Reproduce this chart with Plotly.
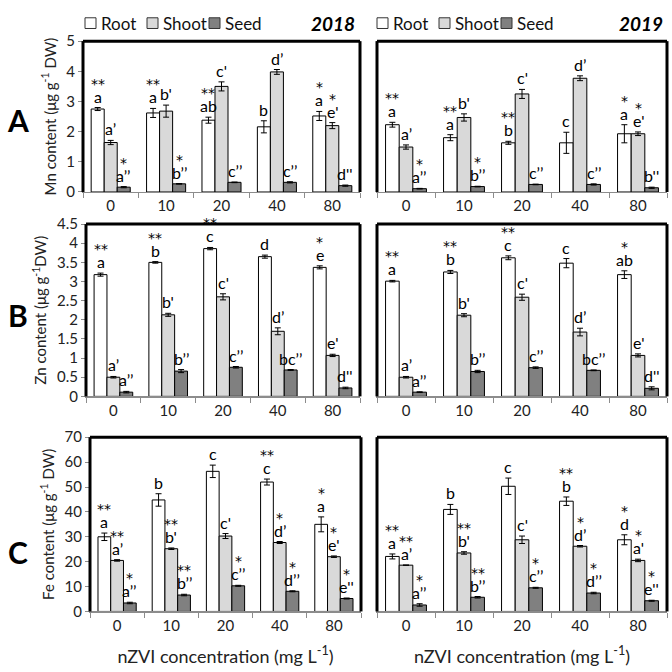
import plotly.graph_objects as go
import numpy as np

concentrations = ["0", "10", "20", "40", "80"]
series_names = ["Root", "Shoot", "Seed"]
series_colors = ["#ffffff", "#d9d9d9", "#808080"]

# ---- Mn (panel A) ----
mn_2018_root = [2.75, 2.62, 2.38, 2.16, 2.52]
mn_2018_shoot = [1.64, 2.68, 3.50, 3.98, 2.20]
mn_2018_seed = [0.16, 0.27, 0.32, 0.32, 0.21]
mn_2018_root_err = [0.05, 0.15, 0.10, 0.20, 0.15]
mn_2018_shoot_err = [0.07, 0.20, 0.15, 0.08, 0.10]
mn_2018_seed_err = [0.02, 0.01, 0.01, 0.02, 0.02]
mn_2019_root = [2.23, 1.80, 1.63, 1.63, 1.93]
mn_2019_shoot = [1.49, 2.47, 3.25, 3.77, 1.93]
mn_2019_seed = [0.11, 0.18, 0.25, 0.25, 0.14]
mn_2019_root_err = [0.08, 0.10, 0.05, 0.35, 0.30]
mn_2019_shoot_err = [0.07, 0.12, 0.15, 0.08, 0.06]
mn_2019_seed_err = [0.01, 0.01, 0.01, 0.02, 0.02]

# ---- Zn (panel B) ----
zn_2018_root = [3.18, 3.50, 3.86, 3.65, 3.37]
zn_2018_shoot = [0.50, 2.13, 2.60, 1.70, 1.07]
zn_2018_seed = [0.11, 0.66, 0.76, 0.69, 0.22]
zn_2018_root_err = [0.04, 0.02, 0.03, 0.04, 0.04]
zn_2018_shoot_err = [0.02, 0.04, 0.08, 0.09, 0.03]
zn_2018_seed_err = [0.02, 0.04, 0.02, 0.01, 0.02]
zn_2019_root = [3.01, 3.25, 3.62, 3.48, 3.18]
zn_2019_shoot = [0.50, 2.12, 2.59, 1.68, 1.07]
zn_2019_seed = [0.11, 0.65, 0.75, 0.68, 0.21]
zn_2019_root_err = [0.02, 0.04, 0.05, 0.12, 0.10]
zn_2019_shoot_err = [0.02, 0.04, 0.08, 0.10, 0.04]
zn_2019_seed_err = [0.01, 0.03, 0.02, 0.01, 0.04]

# ---- Fe (panel C) ----
fe_2018_root = [30.0, 44.8, 56.3, 52.0, 35.0]
fe_2018_shoot = [20.5, 25.2, 30.3, 27.7, 22.0]
fe_2018_seed = [3.4, 6.6, 10.3, 8.1, 5.2]
fe_2018_root_err = [1.5, 2.5, 2.5, 1.2, 3.0]
fe_2018_shoot_err = [0.3, 0.3, 1.0, 0.4, 0.3]
fe_2018_seed_err = [0.3, 0.3, 0.2, 0.2, 0.2]
fe_2019_root = [22.1, 41.0, 50.3, 44.3, 28.8]
fe_2019_shoot = [18.6, 23.5, 28.8, 26.2, 20.5]
fe_2019_seed = [2.6, 5.7, 9.5, 7.4, 4.3]
fe_2019_root_err = [1.0, 2.0, 3.3, 1.7, 2.0]
fe_2019_shoot_err = [0.0, 0.5, 1.5, 0.3, 0.5]
fe_2019_seed_err = [0.5, 0.3, 0.2, 0.3, 0.2]

# ---- significance labels ----
mn_2018_root_lbl = ["**a", "**a", "**ab", "b", "*a"]
mn_2018_shoot_lbl = ["a’", "b'", "c'", "d’", "*e'"]
mn_2018_seed_lbl = ["*a’’", "*b’’", "c’’", "c’’", "d''"]
mn_2019_root_lbl = ["**a", "**a", "**b", "c", "*a"]
mn_2019_shoot_lbl = ["a’", "b'", "c'", "d’", "*e'"]
mn_2019_seed_lbl = ["*a’’", "*b’’", "c’’", "c’’", "b''"]
zn_2018_root_lbl = ["**a", "**b", "**c", "d", "*e"]
zn_2018_shoot_lbl = ["a’", "b'", "c'", "d’", "e'"]
zn_2018_seed_lbl = ["a’’", "b’’", "c’’", "bc’’", "d''"]
zn_2019_root_lbl = ["**a", "**b", "**c", "c", "*ab"]
zn_2019_shoot_lbl = ["a’", "b'", "c'", "d’", "e'"]
zn_2019_seed_lbl = ["a’’", "b’’", "c’’", "bc’’", "d''"]
fe_2018_root_lbl = ["**a", "b", "c", "**c", "*a"]
fe_2018_shoot_lbl = ["**a’", "**b'", "c'", "*d’", "*e'"]
fe_2018_seed_lbl = ["*a’’", "**b’’", "*c’’", "*d’’", "*e''"]
fe_2019_root_lbl = ["**a", "b", "c", "**b", "*d"]
fe_2019_shoot_lbl = ["**a’", "**b'", "c'", "*d’", "*a'"]
fe_2019_seed_lbl = ["*a’’", "**b’’", "*c’’", "*d’’", "*e''"]

FONT = "Lato"
STAR_FONT = "DejaVu Sans"
W = H = 672

panels = [
    ([mn_2018_root, mn_2018_shoot, mn_2018_seed], [mn_2018_root_err, mn_2018_shoot_err, mn_2018_seed_err],
     [mn_2018_root_lbl, mn_2018_shoot_lbl, mn_2018_seed_lbl], 5, 1, "Mn content (μg g<sup>-1</sup> DW)", (83, 360), (32, 187)),
    ([mn_2019_root, mn_2019_shoot, mn_2019_seed], [mn_2019_root_err, mn_2019_shoot_err, mn_2019_seed_err],
     [mn_2019_root_lbl, mn_2019_shoot_lbl, mn_2019_seed_lbl], 5, 1, None, (377, 667), (32, 187)),
    ([zn_2018_root, zn_2018_shoot, zn_2018_seed], [zn_2018_root_err, zn_2018_shoot_err, zn_2018_seed_err],
     [zn_2018_root_lbl, zn_2018_shoot_lbl, zn_2018_seed_lbl], 4.5, 0.5, "Zn content (μg g<sup>-1</sup>DW)", (86, 360), (220, 397)),
    ([zn_2019_root, zn_2019_shoot, zn_2019_seed], [zn_2019_root_err, zn_2019_shoot_err, zn_2019_seed_err],
     [zn_2019_root_lbl, zn_2019_shoot_lbl, zn_2019_seed_lbl], 4.5, 0.5, None, (377, 667), (220, 397)),
    ([fe_2018_root, fe_2018_shoot, fe_2018_seed], [fe_2018_root_err, fe_2018_shoot_err, fe_2018_seed_err],
     [fe_2018_root_lbl, fe_2018_shoot_lbl, fe_2018_seed_lbl], 70, 10, "Fe content (μg g<sup>-1</sup> DW)", (90, 361), (439, 618)),
    ([fe_2019_root, fe_2019_shoot, fe_2019_seed], [fe_2019_root_err, fe_2019_shoot_err, fe_2019_seed_err],
     [fe_2019_root_lbl, fe_2019_shoot_lbl, fe_2019_seed_lbl], 70, 10, None, (377, 667), (439, 618)),
]

bar_w = 0.235
offsets = [-bar_w, 0.0, bar_w]
idx = np.arange(len(concentrations))

fig = go.Figure()
annotations = []
shapes = []
layout = {}

for p, (vals, errs, lbls, ymax, dtick, ytitle, xpx, ypx) in enumerate(panels):
    n = p + 1
    xa = "x" if n == 1 else f"x{n}"
    ya = "y" if n == 1 else f"y{n}"
    xkey = "xaxis" if n == 1 else f"xaxis{n}"
    ykey = "yaxis" if n == 1 else f"yaxis{n}"
    for s in range(3):
        fig.add_trace(go.Bar(
            x=idx + offsets[s], y=vals[s], width=bar_w, name=series_names[s],
            marker=dict(color=series_colors[s], line=dict(color="#000000", width=1)),
            error_y=dict(type="data", array=errs[s], color="#000000", thickness=1, width=3),
            xaxis=xa, yaxis=ya, showlegend=False, hoverinfo="skip",
        ))
        for i in range(len(concentrations)):
            lab = lbls[s][i]
            stars = len(lab) - len(lab.lstrip("*"))
            letter = lab.lstrip("*")
            ytop = vals[s][i] + errs[s][i]
            xpos = idx[i] + offsets[s]
            annotations.append(dict(x=xpos, y=ytop, xref=xa, yref=ya, text=letter, showarrow=False,
                                    yanchor="bottom", yshift=0, font=dict(family=FONT, size=16, color="#000000")))
            if stars:
                annotations.append(dict(x=xpos, y=ytop, xref=xa, yref=ya, text="*" * stars,
                                        showarrow=False, yanchor="bottom", yshift=14,
                                        font=dict(family=STAR_FONT, size=14, color="#000000")))
    is_bottom = n >= 5
    xdict = dict(
        domain=[xpx[0] / W, xpx[1] / W], anchor=ya, range=[-0.5, 4.5],
        tickmode="array", tickvals=list(idx), ticktext=concentrations, ticks="",
        showline=True, linecolor="#8c8c8c", linewidth=1.5, showgrid=False, zeroline=False,
        tickfont=dict(family=FONT, size=15, color="#222"),
        minor=dict(tickmode="array", tickvals=list(np.arange(-0.5, 5.0, 1.0)), ticks="outside",
                   ticklen=5, tickcolor="#8c8c8c", tickwidth=1, showgrid=False),
    )
    if is_bottom:
        xdict["title"] = dict(text="nZVI concentration (mg L<sup>-1</sup>)",
                              font=dict(family=FONT, size=18, color="#222"), standoff=17)
    layout[xkey] = xdict
    left = ytitle is not None
    ydict = dict(
        domain=[1 - ypx[1] / H, 1 - ypx[0] / H], anchor=xa, range=[0, ymax], dtick=dtick,
        showticklabels=left, ticks="outside" if left else "", ticklen=4, tickcolor="#8c8c8c",
        showline=True, linecolor="#8c8c8c", showgrid=False, zeroline=False,
        tickfont=dict(family=FONT, size=15, color="#222"),
    )
    if left:
        ydict["title"] = dict(text=ytitle, font=dict(family=FONT, size=15, color="#222"), standoff=6)
    layout[ykey] = ydict
    xd = f"{xa} domain"
    yd = f"{ya} domain"
    for (x0, y0, x1, y1) in [(0, 0, 0, 1), (0, 1, 1, 1), (1, 1, 1, 0)]:
        shapes.append(dict(type="line", xref=xd, yref=yd, x0=x0, y0=y0, x1=x1, y1=y1,
                           line=dict(color="#000000", width=3)))

for letter, ypix in [("A", 113), ("B", 313), ("C", 557)]:
    annotations.append(dict(x=18 / W, y=1 - ypix / H, xref="paper", yref="paper", text=f"<b>{letter}</b>",
                            showarrow=False, xanchor="center", yanchor="middle",
                            font=dict(family=FONT, size=30, color="#000")))

for yr, xr in [("2018", 357), ("2019", 665)]:
    annotations.append(dict(x=xr / W, y=1 - 14 / H, xref="paper", yref="paper", text=f"<b><i>{yr}</i></b>",
                            showarrow=False, xanchor="right", yanchor="middle",
                            font=dict(family=FONT, size=19, color="#000")))

legend_offsets = [0, 62, 124]
for x0 in [85, 377]:
    for s in range(3):
        bx = x0 + legend_offsets[s]
        shapes.append(dict(type="rect", xref="paper", yref="paper",
                           x0=bx / W, x1=(bx + 11) / W, y0=1 - 19 / H, y1=1 - 8 / H,
                           fillcolor=series_colors[s], line=dict(color="#333", width=1)))
        annotations.append(dict(x=(bx + 14) / W, y=1 - 13.5 / H, xref="paper", yref="paper",
                                text=series_names[s], showarrow=False, xanchor="left", yanchor="middle",
                                font=dict(family=FONT, size=17, color="#111")))

fig.update_layout(
    width=W, height=H, margin=dict(l=0, r=0, t=0, b=0),
    paper_bgcolor="#ffffff", plot_bgcolor="#ffffff",
    barmode="overlay", showlegend=False, hovermode=False,
    annotations=annotations, shapes=shapes,
    font=dict(family=FONT),
    **layout,
)

fig.write_html("out.html", config={"displayModeBar": False, "staticPlot": True},
               post_script="document.body.style.margin='0px';document.body.style.overflow='hidden';")
